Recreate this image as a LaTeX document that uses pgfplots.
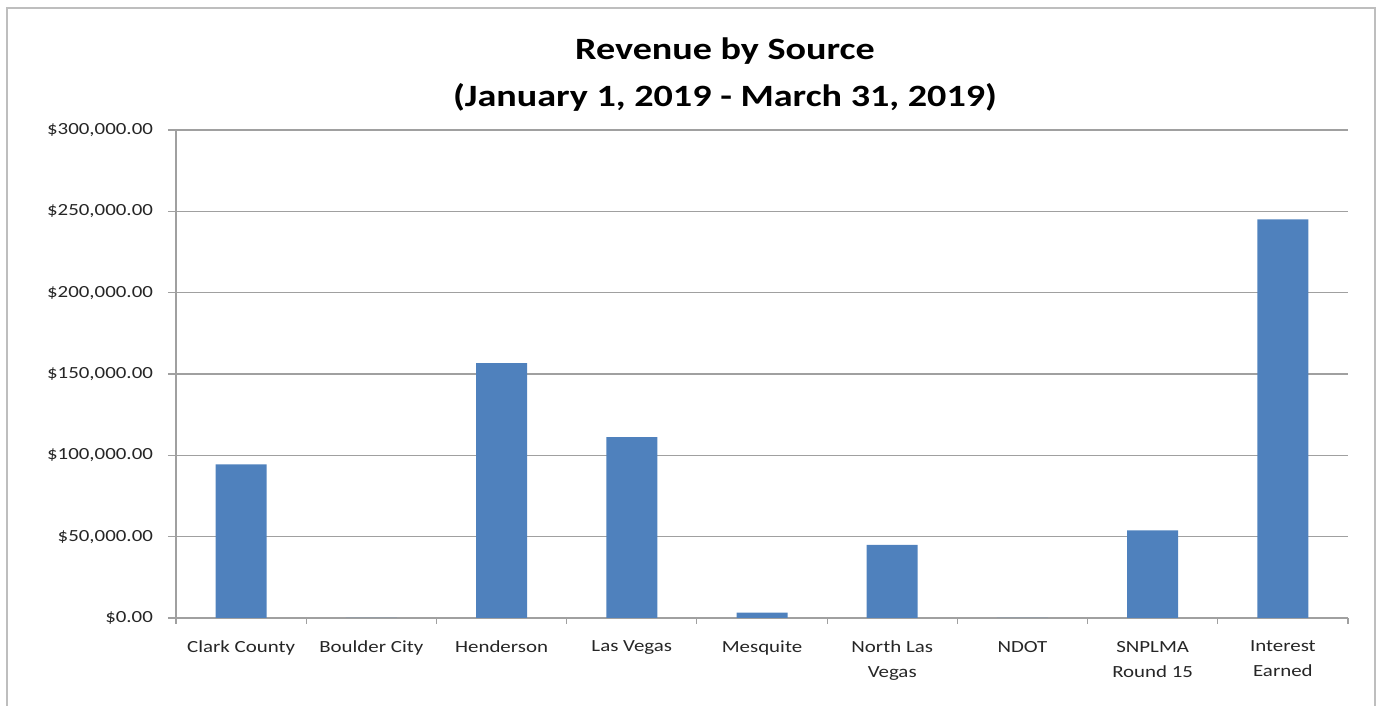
\documentclass[border=0pt]{standalone}
\usepackage{fontspec}
\setmainfont{Carlito}[FakeStretch=1.23]
\usepackage{pgfplots}
\pgfplotsset{compat=1.18}
\definecolor{barblue}{HTML}{4F81BD}
\definecolor{gridgray}{RGB}{160,160,160}
\begin{document}
\begin{tikzpicture}
\path[use as bounding box] (-88pt,-44pt) rectangle (603pt,309pt);
\draw[color={rgb,255:red,190;green,190;blue,190}, line width=0.8pt] (-84.5pt,-60pt) rectangle (599.5pt,305pt);
\begin{axis}[
  at={(0,0)}, anchor=south west,
  scale only axis, width=586pt, height=244pt,
  xmin=-0.5, xmax=8.5, ymin=0, ymax=300000,
  axis x line=bottom, axis y line=left,
  axis line style={gridgray, line width=0.6pt, -},
  xtick={0,...,8},
  xticklabels={Clark County, Boulder City, Henderson, Las Vegas, Mesquite, {North Las\\Vegas}, NDOT, {SNPLMA\\Round 15}, {Interest\\Earned}},
  xticklabel style={align=center, font=\fontsize{8.5pt}{12.5pt}\selectfont, text=black!85, anchor=north, yshift=-4pt},
  major x tick style={draw=none},
  minor xtick={-0.5,0.5,...,8.5},
  minor x tick style={gridgray, line width=0.6pt},
  minor tick length=3pt,
  scaled y ticks=false,
  ytick={0,50000,100000,150000,200000,250000,300000},
  yticklabels={{\$0.00},{\$50,000.00},{\$100,000.00},{\$150,000.00},{\$200,000.00},{\$250,000.00},{\$300,000.00}},
  yticklabel style={font=\fontsize{8.5pt}{10pt}\selectfont, text=black!85, anchor=east, xshift=-4pt},
  major y tick style={gridgray, line width=0.6pt},
  major tick length=4pt,
  tick align=outside,
  ymajorgrids, grid style={gridgray, line width=0.6pt},
  ybar, bar width=25.5pt,
  clip=false,
]
\addplot[fill=barblue, draw=none] coordinates {
  (0,94400) (1,0) (2,156700) (3,111200) (4,3300) (5,44900) (6,0) (7,53800) (8,245100)
};
\end{axis}
\node[anchor=base, font=\bfseries\fontsize{15.5pt}{18pt}\selectfont] at (274.5pt,279pt) {Revenue by Source};
\node[anchor=base, font=\bfseries\fontsize{15.5pt}{18pt}\selectfont] at (274.5pt,255.5pt) {(January 1, 2019 - March 31, 2019)};
\end{tikzpicture}
\end{document}
